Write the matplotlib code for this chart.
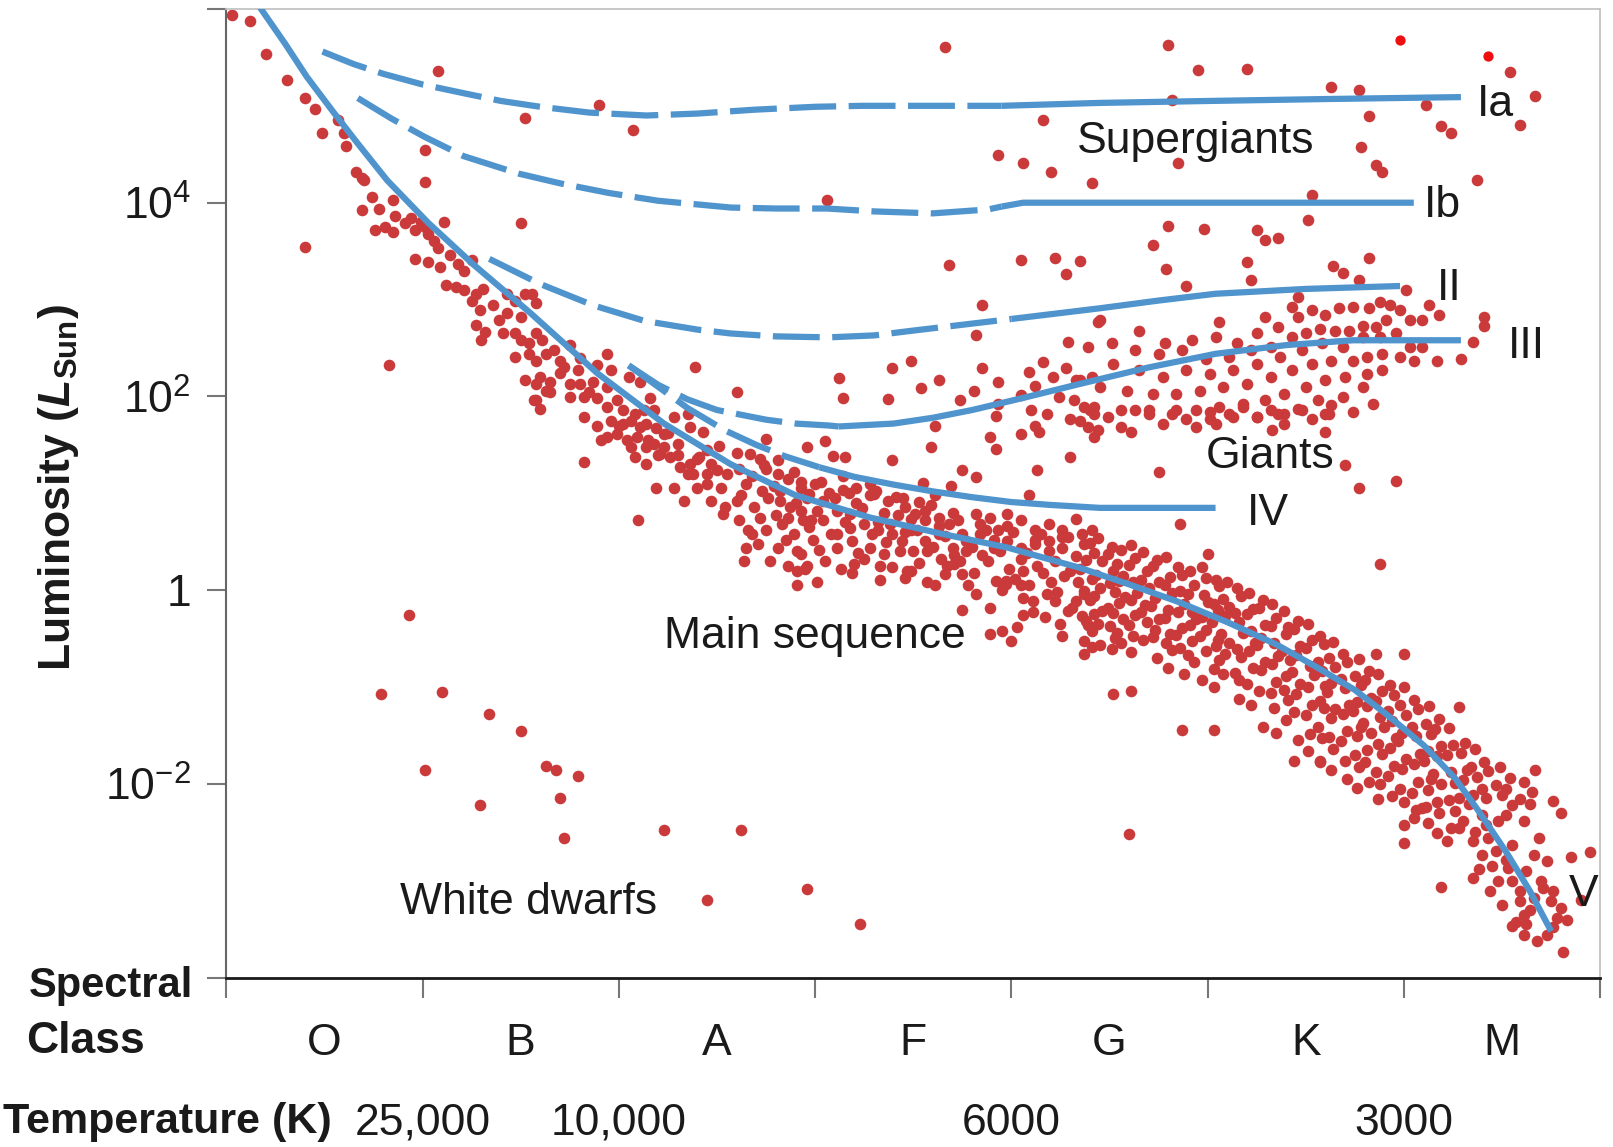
import matplotlib
matplotlib.use("Agg")
import matplotlib.pyplot as plt
from matplotlib.ticker import NullLocator

plt.rcParams["font.family"] = ["Liberation Sans", "DejaVu Sans"]
plt.rcParams["mathtext.fontset"] = "custom"
plt.rcParams["mathtext.rm"] = "Liberation Sans"
plt.rcParams["mathtext.it"] = "Liberation Sans:italic"
plt.rcParams["mathtext.bf"] = "Liberation Sans:bold"
plt.rcParams["mathtext.bfit"] = "Liberation Sans:italic:bold"

# spectral classes (one unit wide each) and the temperature marks under them
classes = ["O", "B", "A", "F", "G", "K", "M"]
temp_pos = [1, 2, 4, 6]
temp_labels = ["25,000", "10,000", "6000", "3000"]

# luminosity-class lines: x = spectral position, y = log10(L/Lsun), solid from index split
branches = {
    "V": ([0.17, 0.30, 0.41, 0.54, 0.67, 0.82, 1.03, 1.26, 1.55, 1.89, 2.23, 2.57, 2.90, 3.28, 3.65,
           3.98, 4.35, 4.60, 4.85, 5.10, 5.35, 5.56, 5.75, 5.91, 6.10, 6.26, 6.38, 6.52, 6.64, 6.75],
          [6.02, 5.64, 5.30, 4.95, 4.61, 4.23, 3.79, 3.36, 2.86, 2.24, 1.72, 1.30, 0.98, 0.75, 0.58,
           0.44, 0.23, 0.06, -0.12, -0.33, -0.56, -0.80, -1.03, -1.28, -1.60, -1.94, -2.28, -2.70, -3.10,
           -3.52], 0),
    "Ia": ([0.49, 0.65, 0.80, 1.00, 1.21, 1.40, 1.60, 1.85, 2.14, 2.40, 2.69, 3.00, 3.24, 3.60, 3.95,
            4.45, 5.00, 5.60, 6.29],
           [5.56, 5.43, 5.33, 5.22, 5.13, 5.05, 4.99, 4.93, 4.90, 4.92, 4.96, 4.99, 5.00, 5.00, 5.00,
            5.03, 5.05, 5.07, 5.09], 14),
    "Ib": ([0.67, 0.84, 1.01, 1.21, 1.49, 1.70, 1.95, 2.20, 2.57, 2.80, 3.06, 3.30, 3.60, 3.88, 3.95,
            4.06, 6.05],
           [5.08, 4.87, 4.68, 4.48, 4.30, 4.20, 4.10, 4.02, 3.95, 3.94, 3.94, 3.91, 3.89, 3.93, 3.96,
            4.00, 4.00], 14),
    "II": ([1.34, 1.40, 1.60, 1.87, 2.13, 2.40, 2.57, 2.80, 3.07, 3.30, 3.50, 3.75, 4.00, 4.45, 4.75,
            5.04, 5.50, 5.98],
           [3.42, 3.36, 3.16, 2.94, 2.78, 2.69, 2.65, 2.62, 2.61, 2.63, 2.68, 2.74, 2.80, 2.91, 2.99,
            3.06, 3.11, 3.14], 12),
    "III": ([2.05, 2.20, 2.35, 2.50, 2.60, 2.75, 2.90, 3.07, 3.12, 3.40, 3.60, 3.80, 4.05, 4.35, 4.70,
             5.04, 5.40, 5.74, 6.29],
            [2.32, 2.12, 1.97, 1.86, 1.82, 1.76, 1.72, 1.70, 1.69, 1.72, 1.78, 1.86, 1.98, 2.13, 2.30,
             2.44, 2.53, 2.58, 2.58], 8),
    "IV": ([2.05, 2.20, 2.35, 2.54, 2.70, 2.85, 3.02, 3.20, 3.40, 3.60, 3.80, 4.00, 4.20, 4.45, 4.70, 5.04],
           [2.32, 2.10, 1.88, 1.65, 1.50, 1.38, 1.27, 1.17, 1.09, 1.02, 0.96, 0.91, 0.88, 0.85, 0.85, 0.85], 6),
}

# stars as (spectral position, log10 L)
upper_ms = [
    (0.03, 5.94), (0.12, 5.88), (0.20, 5.54), (0.31, 5.27), (0.40, 5.08), (0.45, 4.97), (0.49, 4.72),
    (0.57, 4.85), (0.60, 4.72), (0.61, 4.59), (0.66, 4.32), (0.69, 4.25), (0.70, 4.23), (0.74, 4.06),
    (0.85, 4.03), (0.69, 3.92), (0.78, 3.94), (0.76, 3.72), (0.81, 3.75), (0.86, 3.86), (0.94, 3.84),
    (0.96, 3.72), (0.85, 3.70), (0.91, 3.79), (0.99, 3.80), (1.01, 3.75), (1.11, 3.80), (1.03, 3.68),
    (1.06, 3.60), (1.08, 3.53), (0.96, 3.42), (1.03, 3.39), (1.09, 3.34), (1.14, 3.46), (1.18, 3.37),
    (1.21, 3.30), (1.25, 3.41), (1.12, 3.15), (1.17, 3.13), (1.21, 3.10), (1.27, 3.06), (1.31, 3.11),
    (1.25, 2.99), (1.29, 2.89), (1.36, 2.94), (1.27, 2.74), (1.32, 2.67), (1.39, 2.79), (1.43, 3.06),
    (1.47, 2.99), (1.52, 3.06), (1.56, 3.06), (1.58, 2.96), (1.43, 2.86), (1.50, 2.82), (1.47, 2.65),
    (1.50, 2.58), (1.54, 2.55), (1.58, 2.65), (1.61, 2.58), (1.30, 2.58), (1.41, 2.65), (1.47, 2.41),
    (1.54, 2.44), (1.58, 2.37), (1.63, 2.44), (1.67, 2.48), (1.52, 2.17), (1.58, 2.13), (1.63, 2.06),
    (1.58, 1.96), (1.60, 1.87), (1.57, 1.96), (1.65, 2.05), (1.60, 2.20), (1.65, 2.15),
]
mid_ms = [
    (1.75, 2.53), (1.94, 2.44), (1.96, 2.27), (1.89, 2.32), (1.79, 2.27), (1.70, 2.37), (1.70, 2.24),
    (1.75, 2.13), (1.80, 2.13), (1.87, 2.15), (1.94, 2.10), (2.05, 2.20), (2.11, 2.15), (2.16, 1.98),
    (2.28, 1.79), (2.35, 1.82), (2.36, 1.68), (2.43, 1.63), (2.51, 1.49), (1.75, 1.99), (1.82, 1.99),
    (1.89, 1.98), (1.94, 1.89), (1.99, 1.96), (2.02, 1.86), (2.08, 1.82), (2.13, 1.86), (2.18, 1.86),
    (1.82, 1.79), (1.89, 1.70), (1.96, 1.75), (2.02, 1.72), (2.06, 1.75), (2.11, 1.68), (2.14, 1.72),
    (2.19, 1.67), (2.23, 1.61), (2.30, 1.51), (1.99, 1.61), (2.04, 1.55), (1.91, 1.55), (1.94, 1.58),
    (2.06, 1.48), (2.09, 1.58), (2.14, 1.48), (2.18, 1.51), (2.23, 1.48), (2.08, 1.37), (2.14, 1.30),
    (2.21, 1.41), (2.26, 1.37), (2.31, 1.27), (2.36, 1.30), (2.41, 1.37), (2.47, 1.30), (2.50, 1.24),
    (2.45, 1.20), (2.35, 1.20), (1.82, 1.32), (1.72, 2.30), (1.80, 2.40), (1.85, 2.05), (2.00, 1.70),
    (2.15, 1.55), (2.20, 1.40), (2.25, 1.62), (2.30, 1.40), (2.40, 1.35), (2.45, 1.45), (2.55, 1.20),
    (2.52, 1.05), (2.45, 1.10), (2.38, 1.20),
]
band_af = [
    (3.14, 1.03), (3.21, 1.06), (3.28, 1.10), (3.30, 0.99), (3.37, 0.92), (3.46, 0.86), (3.51, 0.79),
    (3.56, 0.72), (3.63, 0.75), (3.68, 0.68), (3.75, 0.58), (3.82, 0.79), (3.89, 0.75), (3.93, 0.62),
    (3.98, 0.79), (4.05, 0.72), (4.12, 0.62), (4.19, 0.68), (4.26, 0.55), (4.33, 0.74), (4.41, 0.62),
    (2.97, 0.99), (3.04, 0.92), (2.93, 0.82), (2.98, 0.72), (3.11, 0.82), (3.18, 0.79), (3.25, 0.68),
    (3.32, 0.62), (3.39, 0.58), (3.44, 0.51), (3.49, 0.62), (3.56, 0.51), (3.63, 0.58), (3.70, 0.44),
    (3.77, 0.51), (3.84, 0.58), (3.91, 0.44), (3.98, 0.51), (4.05, 0.44), (4.12, 0.48), (4.19, 0.51),
    (4.26, 0.44), (4.37, 0.48), (2.82, 0.92), (2.86, 0.75), (2.75, 0.62), (2.81, 0.44), (2.65, 0.44),
    (2.68, 0.58), (2.61, 0.72), (2.54, 0.86), (2.47, 0.92), (2.40, 1.06), (2.33, 0.92), (2.28, 1.06),
    (2.19, 1.06), (2.10, 0.72), (2.53, 0.79), (2.60, 0.92), (2.72, 0.75), (2.89, 0.58), (3.02, 0.41),
    (3.11, 0.58), (3.19, 0.51), (3.28, 0.44), (3.35, 0.37), (2.93, 0.37), (2.60, 1.42), (2.67, 1.41),
    (2.74, 1.29), (2.81, 1.34), (2.81, 1.20), (2.93, 1.12),
    (2.64, 0.30), (2.86, 0.25), (2.91, 0.20), (2.95, 0.22), (2.91, 0.05), (3.01, 0.08), (3.20, 0.27),
    (3.33, 0.11), (3.46, 0.13), (3.49, 0.20), (3.57, 0.08), (3.66, 0.17), (3.71, 0.27), (3.75, 0.17),
    (3.82, -0.04), (3.75, -0.20), (3.97, 0.10), (4.05, 0.05), (4.06, -0.26), (3.89, -0.45), (3.95, -0.42),
    (4.00, -0.52), (4.26, -0.47), (4.11, -0.11), (4.22, -0.11), (4.29, -0.21), (4.37, -0.01), (4.42, -0.25),
    (4.38, -0.32), (4.37, -0.66), (4.41, -0.59), (3.97, 0.06), (4.06, 0.20), (4.18, -0.04), (4.33, -0.11),
    (2.61, 1.25), (2.65, 1.10), (2.62, 0.98), (2.66, 0.62), (2.72, 1.35), (2.68, 1.18), (2.73, 1.02),
    (2.69, 0.86), (2.71, 0.48), (2.75, 1.25), (2.79, 1.08), (2.76, 0.95), (2.80, 0.78), (2.77, 0.30),
    (2.86, 1.15), (2.82, 1.02), (2.87, 0.86), (2.83, 0.68), (2.85, 0.52), (2.89, 1.22), (2.93, 1.05),
    (2.90, 0.90), (2.94, 0.72), (2.91, 0.40), (3.00, 1.10), (2.96, 0.95), (3.01, 0.82), (2.97, 0.65),
    (2.99, 0.52), (2.96, 0.25), (3.03, 1.12), (3.07, 1.00), (3.04, 0.72), (3.08, 0.58), (3.05, 0.30),
    (3.14, 1.18), (3.10, 0.95), (3.15, 0.70), (3.11, 0.44), (3.13, 0.22), (3.17, 1.00), (3.21, 0.90),
    (3.18, 0.64), (3.22, 0.38), (3.19, 0.18), (3.28, 0.98), (3.24, 0.85), (3.29, 0.58), (3.25, 0.32),
    (3.31, 1.02), (3.35, 0.80), (3.32, 0.70), (3.36, 0.50), (3.33, 0.25), (3.42, 0.78), (3.38, 0.68),
    (3.43, 0.40), (3.39, 0.24), (3.45, 0.95), (3.49, 0.74), (3.46, 0.60), (3.50, 0.40), (3.47, 0.20),
    (3.56, 0.82), (3.52, 0.62), (3.57, 0.40), (3.53, 0.28), (3.59, 0.88), (3.63, 0.66), (3.60, 0.45),
    (3.64, 0.32), (3.61, 0.05), (3.70, 0.80), (3.66, 0.56), (3.71, 0.36), (3.67, 0.25), (3.73, 0.72),
    (3.77, 0.40), (3.74, 0.30), (3.78, 0.05), (3.84, 0.68), (3.80, 0.45), (3.85, 0.36), (3.81, 0.18),
    (3.87, 0.62), (3.91, 0.52), (3.88, 0.30), (3.92, 0.10), (3.89, -0.18), (3.98, 0.66), (3.94, 0.40),
    (3.99, 0.22), (3.95, 0.00), (4.01, 0.60), (4.05, 0.32), (4.02, 0.12), (4.06, -0.08), (4.03, -0.38),
    (4.12, 0.52), (4.08, 0.38), (4.13, 0.25), (4.09, 0.05), (4.11, -0.22), (4.15, 0.58), (4.19, 0.40),
    (4.16, 0.18), (4.20, 0.08), (4.17, -0.28), (4.26, 0.62), (4.22, 0.30), (4.27, 0.15), (4.23, -0.02),
    (4.25, -0.35), (4.29, 0.55), (4.33, 0.35), (4.30, 0.20), (4.34, 0.08), (4.31, -0.18),
]
lower_ms = [
    (4.36, 0.58), (4.40, 0.49), (4.38, 0.31), (4.35, 0.22), (4.41, 0.12), (4.37, -0.04), (4.40, -0.10),
    (4.36, -0.27), (4.39, -0.36), (4.37, -0.52),
    (4.44, 0.54), (4.42, 0.38), (4.46, 0.30), (4.43, 0.16), (4.45, 0.02), (4.42, -0.06), (4.46, -0.21),
    (4.44, -0.35), (4.41, -0.42), (4.45, -0.57),
    (4.51, 0.45), (4.49, 0.37), (4.52, 0.20), (4.50, 0.07), (4.53, -0.02), (4.49, -0.18), (4.52, -0.24),
    (4.50, -0.37), (4.53, -0.49), (4.51, -0.61), (4.52, -1.07),
    (4.56, 0.41), (4.54, 0.27), (4.57, 0.15), (4.55, 0.10), (4.58, -0.07), (4.55, -0.13), (4.57, -0.30),
    (4.54, -0.44), (4.56, -0.54),
    (4.61, 0.47), (4.63, 0.33), (4.60, 0.26), (4.62, 0.08), (4.64, -0.03), (4.61, -0.10), (4.63, -0.26),
    (4.60, -0.36), (4.62, -0.47), (4.61, -0.64), (4.61, -1.04),
    (4.67, 0.39), (4.69, 0.20), (4.66, 0.11), (4.70, 0.02), (4.68, -0.15), (4.66, -0.23), (4.69, -0.33),
    (4.67, -0.51),
    (4.74, 0.31), (4.72, 0.25), (4.75, 0.08), (4.73, -0.08), (4.71, -0.16), (4.75, -0.30), (4.73, -0.41),
    (4.72, -0.48), (4.74, -0.70),
    (4.79, 0.34), (4.81, 0.14), (4.78, 0.05), (4.82, -0.03), (4.80, -0.20), (4.78, -0.29), (4.81, -0.45),
    (4.79, -0.55), (4.82, -0.62), (4.80, -0.80),
    (4.85, 0.24), (4.87, 0.16), (4.86, -0.01), (4.88, -0.14), (4.85, -0.22), (4.87, -0.39), (4.84, -0.46),
    (4.86, -0.60), (4.88, -0.86),
    (4.91, 0.20), (4.93, 0.05), (4.90, -0.04), (4.92, -0.23), (4.94, -0.30), (4.91, -0.36), (4.92, -0.52),
    (4.90, -0.67), (4.93, -0.74),
    (5.00, 0.37), (4.97, 0.24), (4.99, 0.13), (4.98, -0.05), (5.00, -0.12), (4.97, -0.28), (4.99, -0.41),
    (4.96, -0.47), (4.99, -0.63), (4.97, -0.93),
    (5.04, 0.11), (5.06, 0.04), (5.03, -0.14), (5.05, -0.20), (5.02, -0.33), (5.05, -0.51), (5.04, -0.58),
    (5.06, -0.72), (5.03, -0.81), (5.03, -1.00),
    (5.10, 0.08), (5.08, -0.09), (5.11, -0.17), (5.09, -0.27), (5.07, -0.45), (5.11, -0.54), (5.09, -0.66),
    (5.08, -0.86),
    (5.15, 0.02), (5.17, -0.06), (5.14, -0.24), (5.16, -0.33), (5.18, -0.44), (5.15, -0.61), (5.17, -0.69),
    (5.14, -0.85), (5.16, -0.93), (5.16, -1.12),
    (5.21, -0.03), (5.23, -0.19), (5.20, -0.25), (5.22, -0.42), (5.24, -0.55), (5.21, -0.63), (5.23, -0.80),
    (5.20, -0.97), (5.22, -1.19),
    (5.28, -0.10), (5.26, -0.18), (5.29, -0.36), (5.27, -0.49), (5.25, -0.57), (5.29, -0.74), (5.27, -0.82),
    (5.26, -1.04), (5.28, -1.41),
    (5.33, -0.14), (5.35, -0.29), (5.32, -0.37), (5.34, -0.54), (5.36, -0.68), (5.33, -0.76), (5.35, -0.95),
    (5.32, -1.06), (5.34, -1.22), (5.35, -1.47),
    (5.39, -0.21), (5.41, -0.38), (5.40, -0.45), (5.38, -0.63), (5.42, -0.72), (5.40, -0.89), (5.39, -1.03),
    (5.41, -1.13), (5.40, -1.34),
    (5.46, -0.32), (5.44, -0.40), (5.47, -0.58), (5.45, -0.67), (5.43, -0.84), (5.47, -0.97), (5.45, -1.07),
    (5.44, -1.26), (5.46, -1.55),
    (5.51, -0.35), (5.53, -0.51), (5.50, -0.60), (5.52, -0.78), (5.54, -0.88), (5.51, -1.00), (5.53, -1.18),
    (5.50, -1.29), (5.52, -1.48), (5.51, -1.66),
    (5.57, -0.47), (5.59, -0.56), (5.56, -0.74), (5.58, -0.83), (5.60, -0.99), (5.57, -1.14), (5.59, -1.22),
    (5.56, -1.41), (5.58, -1.53), (5.57, -1.77),
    (5.64, -0.53), (5.62, -0.70), (5.65, -0.79), (5.63, -0.96), (5.61, -1.05), (5.65, -1.23), (5.63, -1.32),
    (5.62, -1.52), (5.64, -1.64), (5.63, -1.86),
    (5.69, -0.66), (5.71, -0.74), (5.68, -0.92), (5.70, -1.01), (5.72, -1.18), (5.69, -1.28), (5.71, -1.45),
    (5.68, -1.56), (5.70, -1.76), (5.71, -1.95),
    (5.77, -0.71), (5.75, -0.89), (5.78, -0.98), (5.76, -1.15), (5.74, -1.25), (5.78, -1.41), (5.76, -1.51),
    (5.75, -1.70), (5.77, -1.82), (5.76, -2.04),
    (5.82, -0.83), (5.80, -0.93), (5.83, -1.11), (5.81, -1.20), (5.79, -1.37), (5.83, -1.47), (5.81, -1.65),
    (5.80, -1.77), (5.82, -1.98),
    (5.87, -0.86), (5.89, -1.04), (5.86, -1.14), (5.88, -1.31), (5.90, -1.41), (5.87, -1.59), (5.89, -1.69),
    (5.86, -1.88), (5.88, -2.00), (5.87, -2.16),
    (5.93, -0.98), (5.95, -1.08), (5.92, -1.25), (5.94, -1.35), (5.96, -1.53), (5.93, -1.63), (5.95, -1.81),
    (5.92, -1.92), (5.94, -2.12),
    (6.00, -1.00), (5.98, -1.19), (6.01, -1.29), (5.99, -1.47), (5.97, -1.56), (6.01, -1.74), (5.99, -1.85),
    (5.98, -2.05), (6.00, -2.19),
    (6.05, -1.13), (6.07, -1.23), (6.04, -1.41), (6.06, -1.51), (6.08, -1.69), (6.05, -1.79), (6.07, -1.98),
    (6.04, -2.09), (6.06, -2.27),
    (6.13, -1.20), (6.11, -1.38), (6.14, -1.48), (6.12, -1.66), (6.10, -1.76), (6.14, -1.95), (6.12, -2.06),
    (6.11, -2.24),
    (6.18, -1.33), (6.16, -1.43), (6.19, -1.61), (6.17, -1.71), (6.15, -1.90), (6.19, -2.00), (6.17, -2.19),
    (6.23, -1.42), (6.25, -1.60), (6.22, -1.70), (6.24, -1.88), (6.26, -1.99), (6.23, -2.17),
    (6.31, -1.58), (6.29, -1.68), (6.32, -1.86), (6.30, -1.96), (6.28, -2.15),
    (6.36, -1.64), (6.34, -1.82), (6.37, -1.93), (6.35, -2.11), (6.33, -2.21),
    (6.41, -1.77), (6.43, -1.87), (6.40, -2.05), (6.42, -2.15),
    (6.49, -1.82), (6.47, -2.01), (6.50, -2.11), (6.54, -1.94), (6.52, -2.05), (6.55, -2.22),
    (6.61, -1.98), (6.59, -2.16), (6.67, -1.86), (6.65, -2.08), (6.76, -2.18), (6.80, -2.30),
    (6.00, -2.42), (6.00, -2.61), (6.09, -2.25), (6.17, -2.51), (6.19, -3.06), (6.22, -2.59), (6.28, -2.45),
    (6.35, -2.97), (6.40, -2.73), (6.43, -2.56), (6.48, -3.00), (6.52, -2.78), (6.55, -2.63), (6.59, -3.11),
    (6.62, -2.90), (6.66, -2.73), (6.69, -2.56), (6.73, -2.80), (6.59, -3.21), (6.61, -3.35), (6.66, -3.18),
    (6.57, -3.42), (6.55, -3.47), (6.61, -3.56), (6.64, -3.30), (6.71, -3.07), (6.76, -3.11), (6.80, -3.28),
    (6.78, -3.38), (6.73, -3.56), (6.75, -3.21), (6.85, -2.75), (6.95, -2.70), (6.81, -3.73), (6.52, -2.32),
    (6.61, -2.38), (6.64, -2.21), (6.40, -2.32), (6.26, -2.28), (6.35, -2.59), (6.47, -2.69), (6.53, -2.87),
    (6.48, -2.38), (6.05, -2.35), (6.12, -2.40), (6.18, -2.30), (6.24, -2.45), (6.30, -2.38), (6.36, -2.50),
    (6.42, -2.42), (6.45, -2.85), (6.38, -2.88), (6.55, -3.00), (6.70, -3.00), (6.62, -3.45), (6.68, -3.62),
    (6.76, -3.48), (6.83, -3.40), (6.90, -3.20), (6.50, -3.25), (6.44, -3.10),
]
giants = [
    (3.85, 2.94), (3.82, 2.63), (4.29, 2.56), (4.44, 2.77), (4.16, 2.36), (4.09, 2.25), (4.28, 2.29),
    (4.41, 2.20), (4.21, 2.20), (4.33, 2.17), (4.12, 2.11), (3.93, 2.15), (3.85, 2.29), (3.81, 2.06),
    (3.74, 1.96), (3.63, 2.17), (3.54, 2.09), (3.49, 2.37), (3.39, 2.29), (3.37, 1.97), (3.12, 2.19),
    (3.14, 1.98), (4.05, 2.01), (4.24, 1.99), (4.32, 1.96), (4.10, 1.86), (3.93, 1.92), (3.92, 1.80),
    (4.18, 1.82), (4.37, 1.89), (4.42, 1.82), (4.30, 1.77), (4.12, 1.70), (4.14, 1.63), (4.05, 1.61),
    (4.39, 1.68), (4.42, 1.58), (3.89, 1.58), (3.92, 1.46), (3.61, 1.70), (3.59, 1.48), (4.30, 1.37),
    (4.13, 1.24), (4.09, 0.98), (3.39, 1.34), (3.75, 1.24), (3.82, 1.17), (3.55, 1.11), (3.69, 1.08),
    (3.61, 0.98), (3.53, 0.91), (3.41, 0.96), (3.05, 1.54), (2.96, 1.48), (3.09, 1.39), (3.15, 1.37),
    (2.75, 1.56), (2.60, 2.05), (2.39, 2.30),
    (5.46, 3.03), (5.43, 2.92), (5.29, 2.82), (5.06, 2.77), (4.45, 2.79), (4.65, 2.68), (4.78, 2.55),
    (4.92, 2.58), (5.04, 2.61), (5.15, 2.55), (5.25, 2.65), (5.36, 2.72), (5.46, 2.82), (5.53, 2.89),
    (5.60, 2.84), (5.67, 2.91), (5.74, 2.92), (5.82, 2.91), (5.88, 2.98), (5.93, 2.94), (5.98, 2.89),
    (6.03, 2.79), (6.09, 2.79), (5.91, 2.79), (5.86, 2.72), (5.79, 2.73), (5.72, 2.68), (5.65, 2.68),
    (5.57, 2.70), (5.50, 2.65), (5.43, 2.61), (5.32, 2.51), (5.22, 2.48), (5.11, 2.41), (4.99, 2.39),
    (4.87, 2.48), (4.75, 2.44), (4.63, 2.48), (4.51, 2.55), (4.39, 2.51), (4.52, 2.34), (4.65, 2.27),
    (4.77, 2.20), (4.89, 2.27), (5.01, 2.23), (5.13, 2.27), (5.25, 2.34), (5.37, 2.41), (5.48, 2.48),
    (5.58, 2.55), (5.69, 2.51), (5.79, 2.61), (5.88, 2.61), (5.96, 2.65), (6.03, 2.51), (6.09, 2.51),
    (5.89, 2.44), (5.81, 2.41), (5.74, 2.37), (5.63, 2.37), (5.53, 2.34), (5.43, 2.27), (5.32, 2.20),
    (5.20, 2.13), (5.08, 2.10), (4.96, 2.06), (4.84, 2.03), (4.72, 2.03), (4.59, 2.06), (4.45, 2.10),
    (4.35, 2.17), (4.42, 1.89), (4.56, 1.86), (4.70, 1.86), (4.82, 1.82), (4.94, 1.86), (5.06, 1.89),
    (5.18, 1.92), (5.29, 1.96), (5.39, 2.03), (5.50, 2.10), (5.60, 2.17), (5.70, 2.20), (5.81, 2.23),
    (5.89, 2.27), (5.79, 2.10), (5.69, 1.99), (5.56, 1.96), (5.48, 1.86), (5.36, 1.82), (5.25, 1.79),
    (5.13, 1.79), (5.01, 1.77), (5.62, 1.82), (5.74, 1.84), (5.84, 1.92), (5.98, 2.41), (6.05, 2.37),
    (4.40, 1.86), (4.49, 1.79), (4.56, 1.68), (4.63, 1.86), (4.70, 1.82), (4.77, 1.72), (4.84, 1.86),
    (4.89, 1.77), (5.01, 1.84), (5.11, 1.82), (5.18, 1.89), (5.25, 1.79), (5.32, 1.86), (5.39, 1.82),
    (5.46, 1.87), (5.53, 1.77), (5.60, 1.82), (5.63, 1.91), (5.33, 1.65), (5.39, 1.72), (5.60, 1.63),
    (4.61, 1.63), (4.44, 1.65), (4.35, 1.75), (4.94, 1.68), (5.04, 1.72),
]
scattered = [
    (1.08, 5.36), (1.52, 4.87), (1.01, 4.54), (1.01, 4.21), (1.50, 3.79), (0.40, 3.54), (0.83, 2.32),
    (1.90, 5.01), (2.07, 4.75), (3.66, 5.61), (4.16, 4.85), (3.93, 4.49), (4.06, 4.41), (4.20, 4.32),
    (4.41, 4.20), (3.06, 4.03), (3.68, 3.36), (4.05, 3.41), (4.22, 3.43), (4.35, 3.40), (4.28, 3.26),
    (4.80, 5.63), (4.95, 5.37), (5.20, 5.38), (5.63, 5.19), (5.77, 5.16), (6.54, 5.35), (6.67, 5.10),
    (6.59, 4.80), (6.11, 5.01), (5.82, 4.90), (6.19, 4.79), (6.24, 4.72), (4.82, 5.06), (5.78, 4.58),
    (5.86, 4.39), (5.89, 4.32), (6.37, 4.23), (4.85, 4.41), (5.53, 4.08), (5.51, 3.82), (4.80, 3.76),
    (4.98, 3.73), (5.25, 3.72), (5.29, 3.61), (5.36, 3.64), (4.72, 3.56), (5.20, 3.39), (4.79, 3.32),
    (5.22, 3.20), (4.89, 3.14), (5.64, 3.35), (5.69, 3.27), (5.82, 3.43), (5.77, 3.20), (6.01, 3.10),
    (6.13, 2.94), (6.18, 2.84), (6.41, 2.82), (6.41, 2.73), (6.35, 2.56), (6.29, 2.39), (6.17, 2.37),
    (4.75, 1.22), (5.70, 1.29), (5.77, 1.06), (5.96, 1.13), (5.88, 0.27), (4.86, 0.68), (6.28, -1.21),
    (5.86, -0.66), (6.00, -0.66), (4.87, -1.44), (5.03, -1.44), (5.44, -1.76), (5.57, -1.76),
]
white_dwarfs = [
    (0.93, -0.26), (0.79, -1.07), (1.10, -1.05), (1.34, -1.28), (1.50, -1.45), (1.01, -1.86),
    (1.63, -1.81), (1.68, -1.86), (1.79, -1.92), (1.29, -2.22), (1.70, -2.14), (1.72, -2.56),
    (2.23, -2.48), (2.62, -2.48), (2.45, -3.20), (2.96, -3.08), (3.23, -3.45), (4.60, -2.52),
]
bright_stars = [(5.98, 5.68), (6.43, 5.51)]

# label text, x, log10 L of baseline, alignment
annotations = [
    ("Ia", 6.37, 4.89, "left"), ("Ib", 6.10, 3.85, "left"), ("II", 6.17, 3.00, "left"),
    ("III", 6.53, 2.40, "left"), ("IV", 5.20, 0.67, "left"), ("V", 6.84, -3.26, "left"),
    ("Supergiants", 4.94, 4.51, "center"), ("Giants", 5.32, 1.26, "center"),
    ("Main sequence", 3.00, -0.60, "center"), ("White dwarfs", 1.54, -3.34, "center"),
]

star_red = "#cb3a3a"
line_blue = "#4f94cd"
ink = "#1a1a1a"

fig = plt.figure(figsize=(16.13, 11.47), dpi=100)
ax = fig.add_axes([0.1403, 0.1476, 0.8518, 0.8446])

for group in [upper_ms, mid_ms, band_af, lower_ms, giants, scattered, white_dwarfs]:
    ax.scatter([p[0] for p in group], [10 ** p[1] for p in group], s=70, color=star_red,
               linewidths=0, zorder=2)
ax.scatter([p[0] for p in bright_stars], [10 ** p[1] for p in bright_stars], s=55,
           color="#ee1010", linewidths=0, zorder=2)

for name, (bx, by, split) in branches.items():
    ly = [10 ** v for v in by]
    if split > 0:
        ax.plot(bx[:split + 1], ly[:split + 1], color=line_blue, lw=4.5, ls=(0, (7.5, 2.0)),
                dash_capstyle="butt", zorder=3)
    ax.plot(bx[split:], ly[split:], color=line_blue, lw=4.5, solid_capstyle="butt",
            solid_joinstyle="round", zorder=3)

for text, x, y, ha in annotations:
    ax.text(x, 10 ** y, text, ha=ha, va="baseline", fontsize=32, color=ink, zorder=4)

ax.set_yscale("log")
ax.set_xlim(0, 7)
ax.set_ylim(1e-4, 1e6)
ax.set_yticks([1e-4, 1e-2, 1, 1e2, 1e4, 1e6])
ax.set_yticklabels(["", "10$^{-2}$", "1", "10$^{2}$", "10$^{4}$", ""])
ax.yaxis.set_minor_locator(NullLocator())
ax.set_xticks(range(8))
ax.set_xticklabels([])

ax.tick_params(axis="y", length=13.5, width=1.5, color="#777777", pad=12, labelsize=32, labelcolor=ink)
ax.tick_params(axis="x", length=14.5, width=1.5, color="#777777")
yt = ax.yaxis.get_major_ticks()
yt[0].tick1line.set_color("#111111")
yt[-1].tick1line.set_color("#111111")
ax.xaxis.get_major_ticks()[-1].tick1line.set_color("#111111")

ax.spines["left"].set_color("#666666")
ax.spines["left"].set_linewidth(1.5)
ax.spines["bottom"].set_color("#1a1a1a")
ax.spines["bottom"].set_linewidth(2)
for side in ["top", "right"]:
    ax.spines[side].set_color("#c4c4c4")
    ax.spines[side].set_linewidth(1.3)

# class letters centred in each class, temperatures on the class boundaries
for i, c in enumerate(classes):
    ax.text(i + 0.5, -0.0795, c, transform=ax.get_xaxis_transform(), ha="center", va="baseline",
            fontsize=32, color=ink)
for pos, lab in zip(temp_pos, temp_labels):
    ax.text(pos, -0.162, lab, transform=ax.get_xaxis_transform(), ha="center", va="baseline",
            fontsize=32, color=ink)

fig.text(0.0363, 0.5745, r"Luminosity ($\mathbfit{L}_{\mathbf{Sun}}$)", rotation=90, ha="center",
         va="center", fontsize=32, fontweight="bold", color=ink)
fig.text(0.018, 0.1308, "Spectral", ha="left", va="baseline", fontsize=30, fontweight="bold", color=ink)
fig.text(0.016, 0.0820, "Class", ha="left", va="baseline", fontsize=32, fontweight="bold", color=ink)
fig.text(0.002, 0.0122, "Temperature (K)", ha="left", va="baseline", fontsize=31, fontweight="bold",
         color=ink)

fig.savefig("out.png", dpi=100)
